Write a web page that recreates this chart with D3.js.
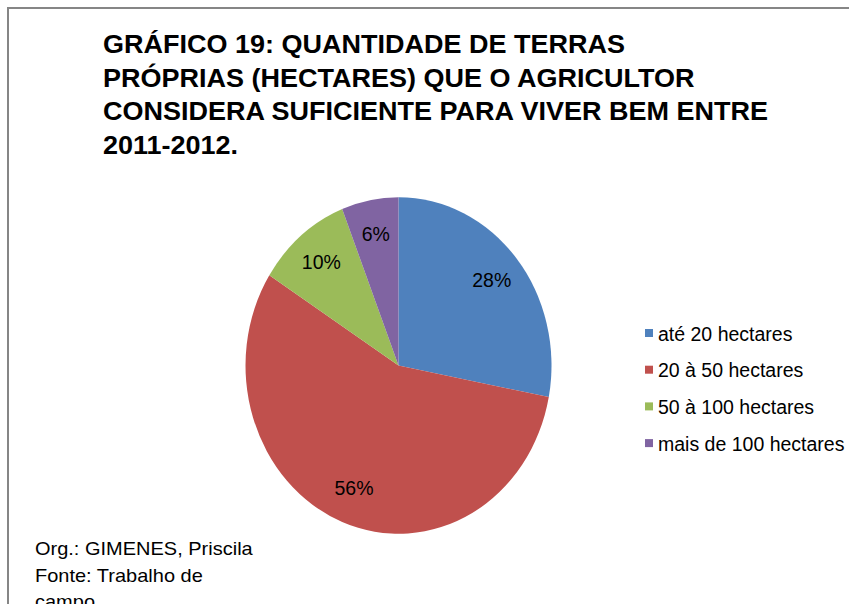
<!DOCTYPE html>
<html>
<head>
<meta charset="utf-8">
<script src="https://cdn.jsdelivr.net/npm/d3@7"></script>
<style>
  html, body { margin: 0; padding: 0; background: #fff; }
  svg { display: block; font-family: "Liberation Sans", Arial, sans-serif; }
</style>
</head>
<body>
<svg id="chart" width="849" height="604"></svg>
<script>
const titleLines = [
  "GRÁFICO 19: QUANTIDADE DE TERRAS",
  "PRÓPRIAS (HECTARES) QUE O AGRICULTOR",
  "CONSIDERA SUFICIENTE PARA VIVER BEM ENTRE",
  "2011-2012."
];
const categories = ["até 20 hectares", "20 à 50 hectares", "50 à 100 hectares", "mais de 100 hectares"];
const values = [28, 56, 10, 6];
const colors = ["#4F81BD", "#C0504D", "#9BBB59", "#8064A2"];
const footerLines = ["Org.: GIMENES, Priscila", "Fonte: Trabalho de", "campo"];

const svg = d3.select("#chart");

// frame
svg.append("rect")
  .attr("x", 8).attr("y", 8)
  .attr("width", 900).attr("height", 700)
  .attr("fill", "#fff")
  .attr("stroke", "#868686")
  .attr("stroke-width", 2);

// title
svg.append("g").selectAll("text")
  .data(titleLines)
  .join("text")
  .attr("transform", (d, i) => `translate(103, ${53 + i * 33.6}) scale(1, 0.95)`)
  .attr("font-size", 27)
  .attr("font-weight", "bold")
  .attr("fill", "#000")
  .text(d => d);

// pie
const cx = 398.5, cy = 365.5, r = 153, yStretch = 1.1;
const pie = d3.pie().sort(null).value(d => d);
const arcs = pie(values);
const arc = d3.arc().innerRadius(0).outerRadius(r);
const labelArc = d3.arc().innerRadius(121).outerRadius(121);

svg.append("g")
  .attr("transform", `translate(${cx},${cy}) scale(1,${yStretch})`)
  .selectAll("path")
  .data(arcs)
  .join("path")
  .attr("d", arc)
  .attr("fill", (d, i) => colors[i]);

const total = d3.sum(values);
svg.append("g")
  .selectAll("text")
  .data(arcs)
  .join("text")
  .attr("x", d => cx + labelArc.centroid(d)[0])
  .attr("y", d => cy + labelArc.centroid(d)[1] * yStretch)
  .attr("text-anchor", "middle")
  .attr("dy", "0.3em")
  .attr("font-size", 19.5)
  .attr("fill", "#000")
  .text(d => Math.round(d.data / total * 100) + "%");

// legend
const legend = svg.append("g")
  .selectAll("g")
  .data(categories)
  .join("g")
  .attr("transform", (d, i) => `translate(645, ${329 + i * 36.7})`);
legend.append("rect")
  .attr("width", 8).attr("height", 8)
  .attr("fill", (d, i) => colors[i]);
legend.append("text")
  .attr("x", 13)
  .attr("y", 11.5)
  .attr("font-size", 19.5)
  .attr("fill", "#000")
  .text(d => d);

// footer
svg.append("g").selectAll("text")
  .data(footerLines)
  .join("text")
  .attr("transform", (d, i) => `translate(35, ${555 + i * 26.6}) scale(1, 0.9)`)
  .attr("font-size", 20)
  .attr("fill", "#000")
  .text(d => d);
</script>
</body>
</html>
